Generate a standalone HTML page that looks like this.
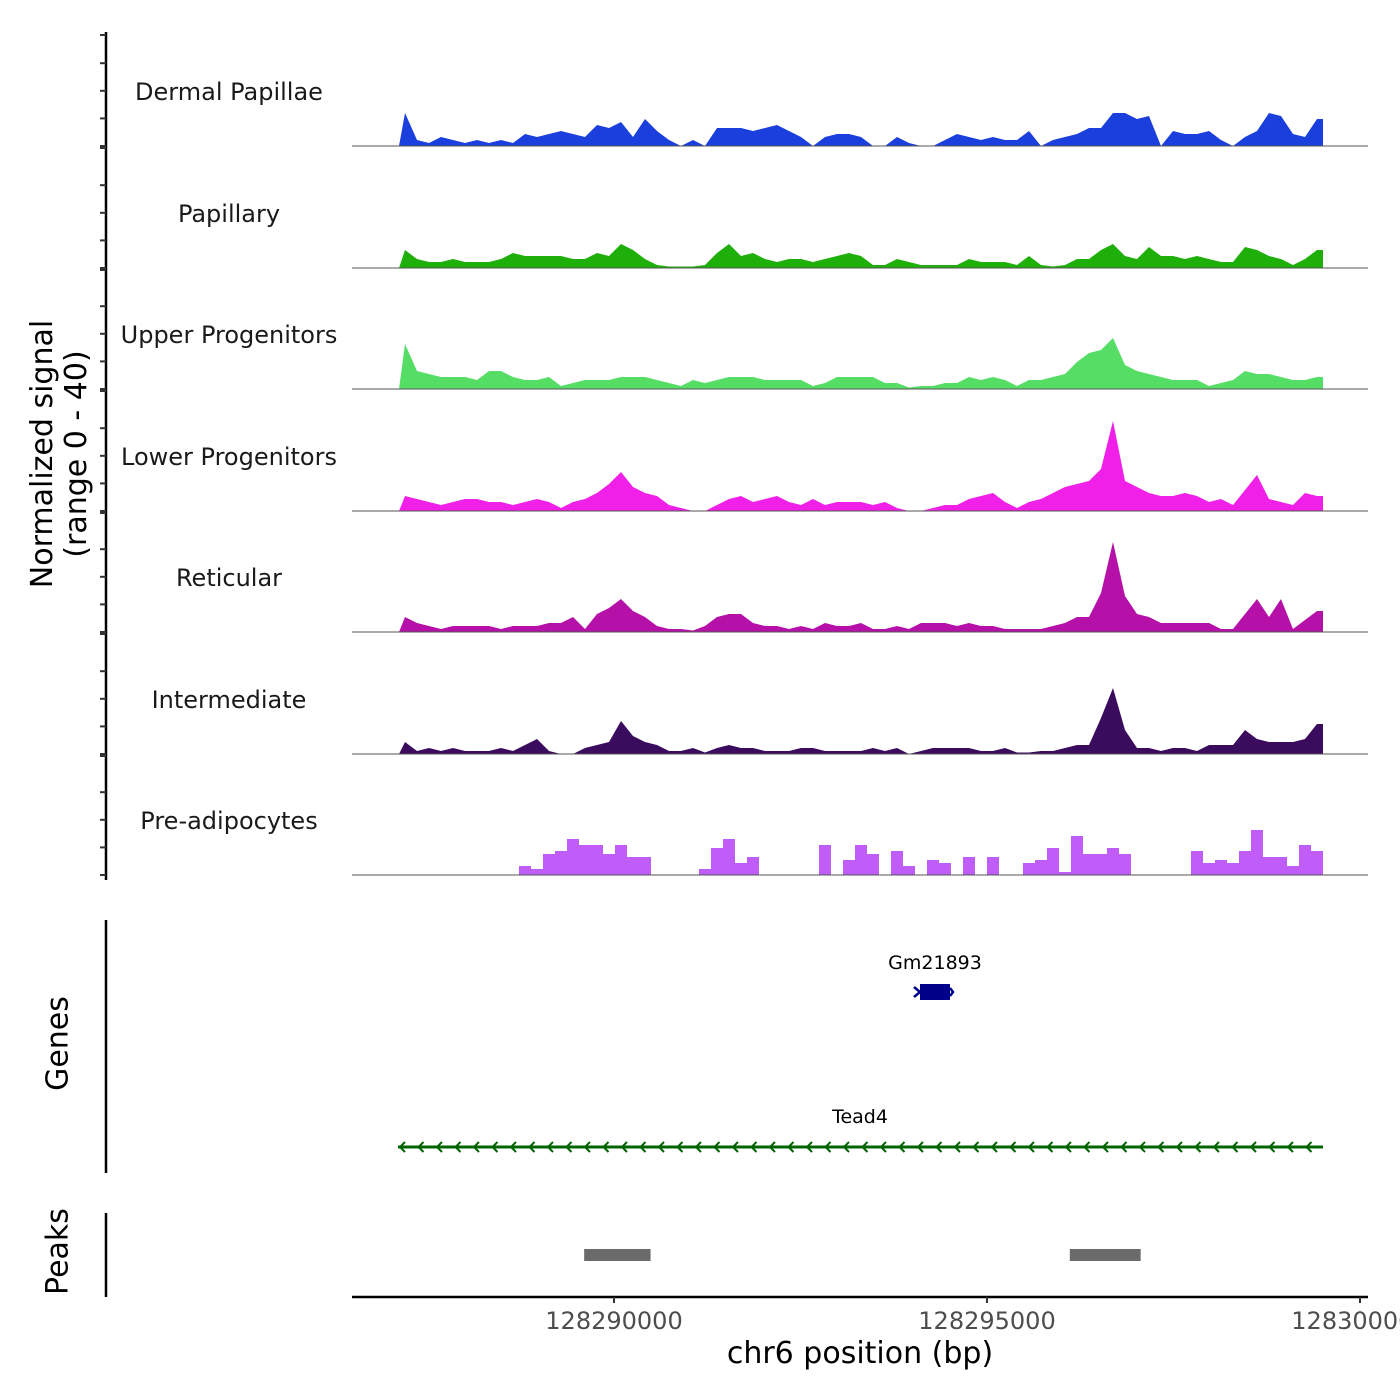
<!DOCTYPE html>
<html><head><meta charset="utf-8"><style>
html,body{margin:0;padding:0;background:#fff;}
svg{display:block;font-family:"DejaVu Sans","Liberation Sans",sans-serif;}
</style></head><body>
<svg id="chart" width="1400" height="1400" viewBox="0 0 1400 1400" xmlns="http://www.w3.org/2000/svg">
<g id="tracks"></g>
<g id="axes"></g>
</svg>
<script>
const trackNames = ["Dermal Papillae","Papillary","Upper Progenitors","Lower Progenitors","Reticular","Intermediate","Pre-adipocytes"];
const trackColors = ["#1a3fdc","#1faf0b","#55dd66","#f020e8","#b511a8","#3b0c5e","#c05cf8"];
const dermal = [11,2,1,3,2,1,2,1,2,1,4,3,4,5,4,3,7,6,8,3,9,5,2,0,2,0,6,6,6,5,6,7,5,3,0,3,4,4,3,0,0,3,1,0,0,2,4,3,2,3,2,2,5,0,2,3,4,6,6,11,11,9,10,0,5,4,4,5,2,0,3,5,11,10,4,3,9];
const papillary = [6,3,2,2,3,2,2,2,3,5,4,4,4,4,3,3,5,4,8,6,3,1,0.5,0.5,0.5,1,5,8,4,5,3,2,3,3,2,3,4,5,4,1,1,3,2,1,1,1,1,3,2,2,2,1,4,1,0.5,1,3,3,6,8,4,3,7,4,4,3,4,3,2,2,7,6,4,3,1,3,6];
const upper = [15,6,5,4,4,4,3,6,6,4,3,3,4,1,2,3,3,3,4,4,4,3,2,1,3,2,3,4,4,4,3,3,3,3,1,2,4,4,4,4,2,2,0.5,1,1,2,2,4,3,4,3,1,3,3,4,5,9,12,13,17,8,6,5,4,3,3,3,1,2,3,6,5,5,4,3,3,4];
const lower = [5,4,3,2,3,4,4,3,3,2,3,4,3,1,3,4,6,9,13,8,6,5,2,1,0,0,2,4,5,3,4,5,3,2,4,2,3,3,3,2,3,1,0,0,1,2,2,4,5,6,3,1,3,4,6,8,9,10,14,30,10,8,6,5,5,6,5,3,4,2,7,12,4,3,2,6,5];
const reticular = [5,3,2,1,2,2,2,2,1,2,2,2,3,3,5,1,6,8,11,7,5,2,1,1,0.5,2,5,6,6,3,2,2,1,2,1,3,2,2,3,1,1,2,1,3,3,3,2,3,2,2,1,1,1,1,2,3,5,5,13,30,12,6,5,3,3,3,3,3,1,1,6,11,5,11,1,4,7];
const intermediate = [4,1,2,1,2,1,1,1,2,1,3,5,1,0,0,2,3,4,11,6,4,3,1,1,2,0.5,2,3,2,2,1,1,1,2,2,1,1,1,1,2,1,2,0,1,2,2,2,2,1,1,2,0.5,0.5,1,1,2,3,3,12,22,8,2,2,1,2,2,1,3,3,3,8,5,4,4,4,5,10];
const preadipo = [0,0,0,0,0,0,0,0,0,0,3,2,7,8,12,10,10,7,10,6,6,0,0,0,0,2,9,12,4,6,0,0,0,0,0,10,0,5,10,7,0,8,3,0,5,4,0,6,0,6,0,0,4,5,9,1,13,7,7,9,7,0,0,0,0,0,8,4,5,4,8,15,6,6,3,10,8];
const trackValues = [dermal,papillary,upper,lower,reticular,intermediate,preadipo];
const xTickValues = [128290000,128295000,128300000];
const xTickLabels = ["128290000","128295000","128300000"];
const regionStart = 128287118, regionEnd = 128299504;
const peakStarts = [128289600,128296110];
const peakEnds = [128290490,128297060];
const geneNames = ["Gm21893","Tead4"];

const NS="http://www.w3.org/2000/svg";
function mk(tag,attrs,parent){const e=document.createElementNS(NS,tag);for(const k in attrs)e.setAttribute(k,attrs[k]);parent.appendChild(e);return e;}
const xScale = bp => 614 + (bp-128290000)*(373/5000);
const baselines = [146,268,389,511,632,754,875];
const yScale = (v,b) => b - v*3;
const tracks=document.getElementById('tracks'), axes=document.getElementById('axes');

trackValues.forEach((vals,t)=>{
  const b=baselines[t];
  const x0=xScale(regionStart), x1=xScale(regionEnd);
  const bw=(x1-x0)/vals.length;
  let d=`M${x0},${b}`;
  vals.forEach((v,i)=>{
    if(t===6){ d+=` L${x0+i*bw},${yScale(v,b)} L${x0+(i+1)*bw},${yScale(v,b)}`; }
    else d+=` L${x0+(i+0.5)*bw},${yScale(v,b)}`;
  });
  d+=` L${x1},${yScale(vals[vals.length-1],b)} L${x1},${b} Z`;
  const p=mk('path',{d:d,fill:trackColors[t]},tracks);
  
  
  const bl=mk('line',{x1:352,x2:1368,y1:b,y2:b,stroke:'#555','stroke-width':1},tracks);
  
  
  const lab=mk('text',{x:229,y:b-46,'text-anchor':'middle','font-size':24,fill:'#1a1a1a'},tracks);
  lab.textContent=trackNames[t];
  
  
});

mk('line',{x1:106,x2:106,y1:32,y2:880,stroke:'#000','stroke-width':2.5},axes);
baselines.forEach((b,t)=>{
  const top = t===0?35:baselines[t-1]+2;
  [b,b-27.6,b-55.2,b-82.8,top].forEach(y=>{
    const tk=mk('line',{x1:100,x2:106,y1:y,y2:y,stroke:'#333','stroke-width':2},axes);
    
    
  });
});
mk('line',{x1:106,x2:106,y1:920,y2:1173,stroke:'#000','stroke-width':2.5},axes);
mk('line',{x1:106,x2:106,y1:1213,y2:1297,stroke:'#000','stroke-width':2.5},axes);

const g1=mk('text',{x:935,y:969,'text-anchor':'middle','font-size':19,fill:'#000'},axes);
g1.textContent=geneNames[0];


mk('rect',{x:920,y:984,width:30,height:16,fill:'#00008b'},axes);
mk('path',{d:'M914,987 L920,992 L914,997 M950,988 L953,992 L950,996',stroke:'#00008b','stroke-width':2.5,fill:'none'},axes);
const g2=mk('text',{x:860,y:1123,'text-anchor':'middle','font-size':19,fill:'#000'},axes);
g2.textContent=geneNames[1];


mk('line',{x1:398,x2:1323,y1:1147,y2:1147,stroke:'#006400','stroke-width':3},axes);
let cd='';
for(let x=398;x<1310;x+=18.5){cd+=`M${x+7},${1142} L${x+2},${1147} L${x+7},${1152} `;}
mk('path',{d:cd,stroke:'#006400','stroke-width':2,fill:'none'},axes);

peakStarts.forEach((s,i)=>{
  const r=mk('rect',{x:xScale(s),y:1249,width:xScale(peakEnds[i])-xScale(s),height:12,fill:'#6b6b6b'},axes);
  
  
});

mk('line',{x1:352,x2:1368,y1:1297,y2:1297,stroke:'#000','stroke-width':2.5},axes);
xTickValues.forEach((v,i)=>{
  const x=xScale(v);
  const tk=mk('line',{x1:x,x2:x,y1:1297,y2:1303,stroke:'#333','stroke-width':2},axes);
  
  
  const t=mk('text',{x:x,y:1329,'text-anchor':'middle','font-size':24,fill:'#4d4d4d'},axes);
  t.textContent=xTickLabels[i];
  
  
});
</script>
<div style="position:absolute;left:0;top:0;width:1400px;height:1400px;pointer-events:none;font-family:'DejaVu Sans','Liberation Sans',sans-serif;">
<div style="position:absolute;left:660px;top:1336px;width:400px;text-align:center;font-size:30px;color:#000;">chr6 position (bp)</div>
<div style="position:absolute;left:-240px;top:420px;width:600px;text-align:center;font-size:30px;line-height:34px;color:#000;transform:rotate(-90deg);">Normalized signal<br>(range 0 - 40)</div>
<div style="position:absolute;left:-42px;top:1026px;width:200px;text-align:center;font-size:30px;color:#000;transform:rotate(-90deg);">Genes</div>
<div style="position:absolute;left:-42px;top:1234px;width:200px;text-align:center;font-size:30px;color:#000;transform:rotate(-90deg);">Peaks</div>
</div>
</body></html>
